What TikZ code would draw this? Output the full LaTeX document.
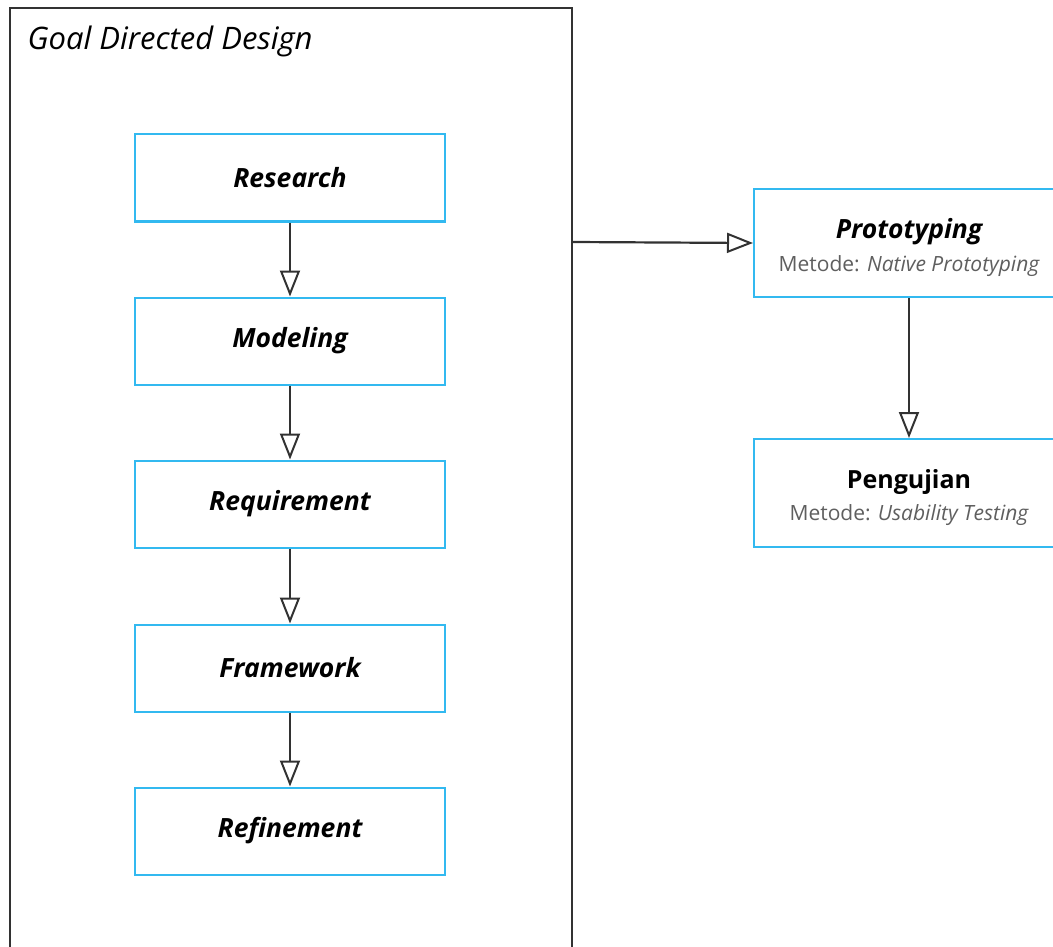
\documentclass[tikz,border=0pt]{standalone}
\usepackage{fontspec}
\setmainfont{Open Sans}
\usetikzlibrary{arrows.meta}
\definecolor{boxblue}{RGB}{50,185,240}
\definecolor{linegray}{RGB}{50,50,50}
\definecolor{subgray}{RGB}{95,95,95}
\tikzset{
  stepbox/.style={draw=boxblue, line width=2pt, fill=white, minimum width=310pt, minimum height=87pt, inner sep=0pt, font=\fontsize{26.5}{30}\selectfont\bfseries\itshape},
  sidebox/.style={draw=boxblue, line width=2pt, fill=white, minimum width=310pt, minimum height=108pt, inner sep=0pt, align=center},
  conn/.style={draw=linegray, line width=2.2pt, -{Triangle[open, length=26pt, width=20pt, line width=2pt]}},
  frame/.style={draw=linegray, line width=2.2pt}
}
\begin{document}
\begin{tikzpicture}[x=1pt,y=-1pt]
\useasboundingbox (0,0) rectangle (1053,947);
\begin{scope}
\clip (0,0) rectangle (1053,947);
\draw[frame] (10,960) -- (10,8) -- (572,8) -- (572,960);
\coordinate (fr) at (572,242);
\node[anchor=base west, font=\fontsize{31}{36}\selectfont\itshape] (title) at (24,50) {Goal Directed Design};
\node[stepbox] (research) at (290,178) {Research};
\node[stepbox] (modeling) at (290,341) {Modeling};
\node[stepbox] (requirement) at (290,504) {Requirement};
\node[stepbox] (framework) at (290,668) {Framework};
\node[stepbox] (refinement) at (290,831) {Refinement};
\node[sidebox] (proto) at (909,243) {{\rule{0pt}{29pt}\fontsize{26.5}{30}\selectfont\bfseries\itshape Prototyping}\\[9pt]{\fontsize{21}{24}\selectfont\color{subgray}Metode: \itshape Native Prototyping}};
\node[sidebox] (uji) at (909,493) {{\rule{0pt}{29pt}\fontsize{25}{30}\selectfont\bfseries Pengujian}\\[9pt]{\fontsize{21}{24}\selectfont\color{subgray}Metode: \itshape Usability Testing}};
\draw[conn] (research) -- (modeling);
\draw[conn] (modeling) -- (requirement);
\draw[conn] (requirement) -- (framework);
\draw[conn] (framework) -- (refinement);
\draw[conn] (fr) -- (proto.west);
\draw[conn] (proto) -- (uji);
\end{scope}
\end{tikzpicture}
\end{document}
